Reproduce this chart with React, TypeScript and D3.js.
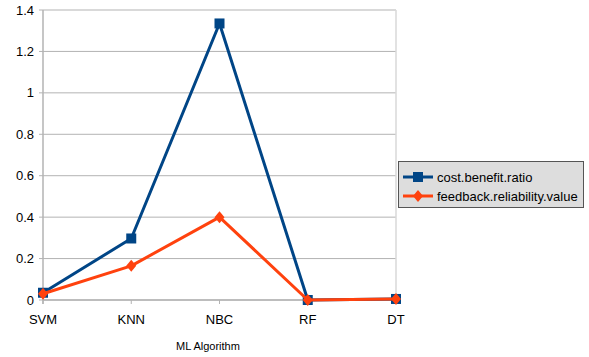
import React from "react";
import * as d3 from "d3";

const algorithms = ["SVM", "KNN", "NBC", "RF", "DT"];
const costBenefit = [0.035, 0.297, 1.335, 0, 0.005];
const feedbackReliability = [0.03, 0.165, 0.4, 0, 0.005];
const yTicks = [0, 0.2, 0.4, 0.6, 0.8, 1, 1.2, 1.4];

const W = 589;
const H = 357;
const margin = { left: 43, right: 193, top: 10, bottom: 57 };

const App = () => {
    const x = d3
        .scalePoint<string>()
        .domain(algorithms)
        .range([margin.left, W - margin.right]);
    const y = d3
        .scaleLinear()
        .domain([0, 1.4])
        .range([H - margin.bottom, margin.top]);

    const series = [
        { name: "cost.benefit.ratio", values: costBenefit, color: "#004586", marker: "square" },
        { name: "feedback.reliability.value", values: feedbackReliability, color: "#ff420e", marker: "diamond" },
    ];

    const line = d3
        .line<number>()
        .x((d, i) => x(algorithms[i])!)
        .y((d) => y(d));

    const marker = (type: string, cx: number, cy: number, color: string, key: string | number) =>
        type === "square" ? (
            <rect key={key} x={cx - 5} y={cy - 5} width={10} height={10} fill={color} />
        ) : (
            <path key={key} d={`M${cx},${cy - 6}L${cx + 5},${cy}L${cx},${cy + 6}L${cx - 5},${cy}Z`} fill={color} />
        );

    const font = "'Liberation Sans', Arial, sans-serif";
    const x0 = margin.left;
    const x1 = W - margin.right;
    const y0 = H - margin.bottom;

    return (
        <svg width={W} height={H} style={{ position: "absolute", left: 0, top: 0 }} fontFamily={font}>
            <rect width={W} height={H} fill="#fff" />
            {yTicks.map((t) => (
                <g key={t}>
                    <line x1={x0 - 4} x2={x1} y1={y(t)} y2={y(t)} stroke="#b3b3b3" strokeWidth={1} />
                    <text x={x0 - 9} y={y(t)} dy="0.35em" textAnchor="end" fontSize={13} fill="#000">
                        {t}
                    </text>
                </g>
            ))}
            <line x1={x1} x2={x1} y1={margin.top} y2={y0} stroke="#d9d9d9" strokeWidth={1.5} />
            <line x1={x0} x2={x0} y1={margin.top} y2={y0 + 4} stroke="#b3b3b3" strokeWidth={1.5} />
            <line x1={x0} x2={x1} y1={y0} y2={y0} stroke="#b3b3b3" strokeWidth={1.5} />
            {algorithms.map((a) => (
                <g key={a}>
                    <line x1={x(a)} x2={x(a)} y1={y0} y2={y0 + 4} stroke="#b3b3b3" />
                    <text x={x(a)} y={y0 + 24} textAnchor="middle" fontSize={13} fill="#000">
                        {a}
                    </text>
                </g>
            ))}
            <text x={208} y={H - 7} textAnchor="middle" fontSize={11} fill="#000">
                ML Algorithm
            </text>
            {series.map((s) => (
                <g key={s.name}>
                    <path d={line(s.values)!} fill="none" stroke={s.color} strokeWidth={3} strokeLinejoin="round" />
                    {s.values.map((v, i) => marker(s.marker, x(algorithms[i])!, y(v), s.color, i))}
                </g>
            ))}
            <rect x={398.5} y={161.5} width={185} height={46} fill="#dddddd" stroke="#555" strokeWidth={1} />
            {series.map((s, i) => {
                const ly = 177 + i * 19;
                return (
                    <g key={s.name}>
                        <line x1={403} x2={433} y1={ly} y2={ly} stroke={s.color} strokeWidth={3} />
                        {marker(s.marker, 418, ly, s.color, "m")}
                        <text x={437} y={ly} dy="0.35em" fontSize={13} fill="#000">
                            {s.name}
                        </text>
                    </g>
                );
            })}
        </svg>
    );
};

export default App;
